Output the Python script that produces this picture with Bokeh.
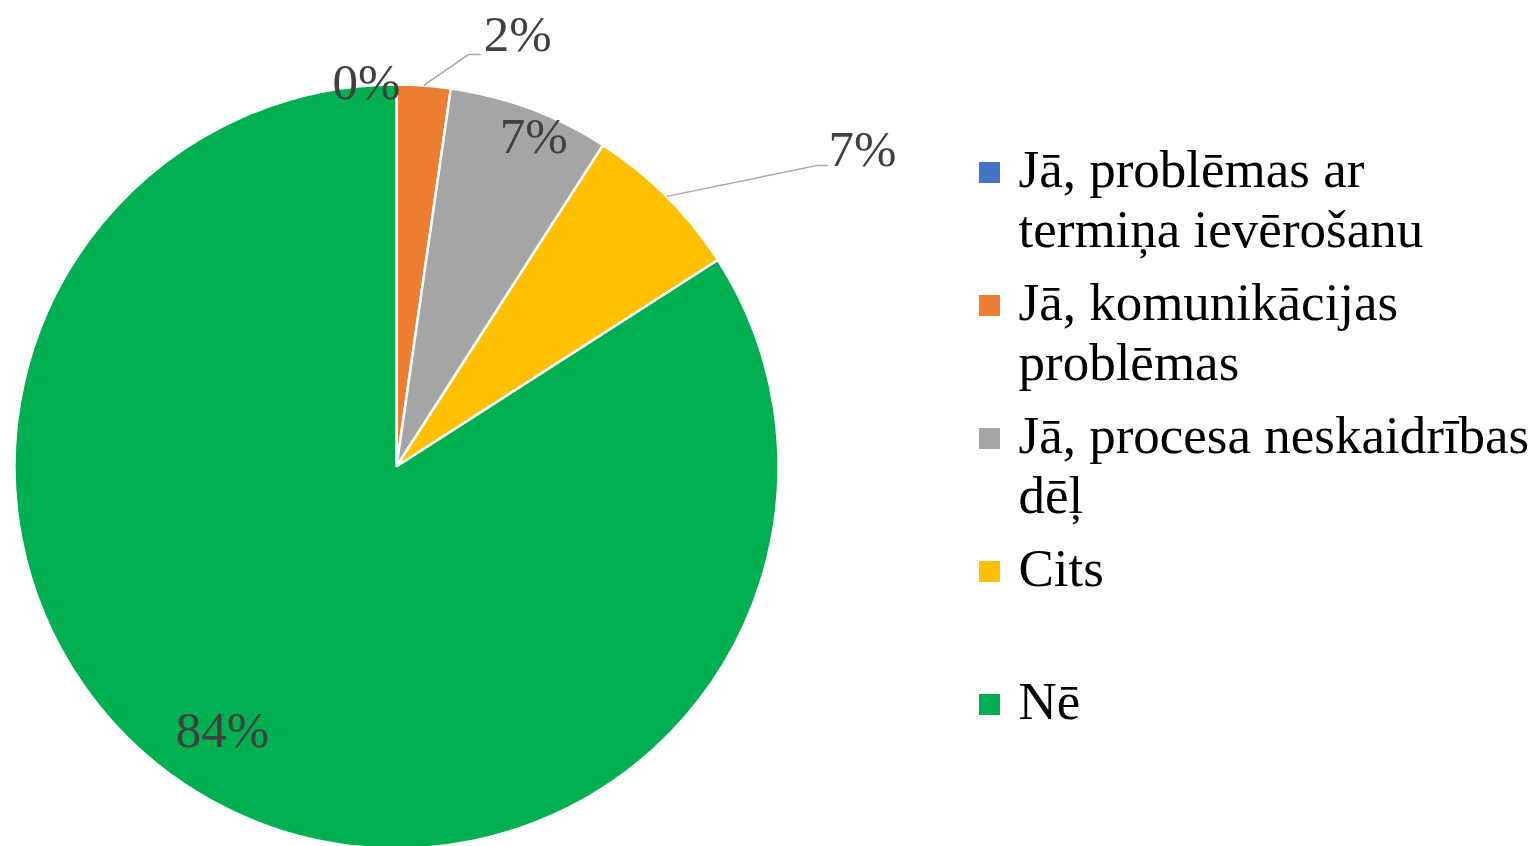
import math
from bokeh.plotting import figure
from bokeh.models import ColumnDataSource, Range1d
from bokeh.core.properties import value
from bokeh.embed import file_html
from bokeh.resources import INLINE

# ---- data ----
categories = [
    "Jā, problēmas ar\ntermiņa ievērošanu",
    "Jā, komunikācijas\nproblēmas",
    "Jā, procesa neskaidrības\ndēļ",
    "Cits",
    "Nē",
]
counts = [0, 1, 3, 3, 37]
percent_labels = ["0%", "2%", "7%", "7%", "84%"]
colors = ["#4472C4", "#ED7D31", "#A5A5A5", "#FFC000", "#00B050"]

# ---- layout ----
W, H = 1537, 846
CX, CY, R = 396, 380, 382
FONT = "Liberation Serif"
# per-slice label placement: (radial factor, dx, dy, leader elbow offset or None)
label_layout = [
    (1.00, -30, 3, None),
    (1.00, 94, 51, (-49, -20, -37)),
    (0.93, 13, -2, None),
    (1.00, 196, 47, (-45, -16, -35)),
    (0.83, -22, 15, None),
]

p = figure(width=W, height=H, x_range=Range1d(0, W), y_range=Range1d(0, H),
           output_backend="svg", toolbar_location=None, min_border=0,
           outline_line_color=None)
p.axis.visible = False
p.xgrid.visible = False
p.ygrid.visible = False

total = sum(counts)
cum = 0
ws = dict(start=[], end=[], color=[])
lab = dict(x=[], y=[], text=[])
lead_x, lead_y = [], []
for i, c in enumerate(counts):
    c0, c1 = cum, cum + c
    cum = c1
    a0 = math.pi / 2 - 2 * math.pi * c0 / total
    a1 = math.pi / 2 - 2 * math.pi * c1 / total
    if c > 0:
        ws["start"].append(a0)
        ws["end"].append(a1)
        ws["color"].append(colors[i])
    th = 2 * math.pi * (c0 + c1) / 2 / total  # clockwise from top
    k, dx, dy, lead = label_layout[i]
    ex = CX + R * k * math.sin(th)
    ey = CY + R * k * math.cos(th)
    lx, ly = ex + dx, ey + dy
    lab["x"].append(lx)
    lab["y"].append(ly)
    lab["text"].append(percent_labels[i])
    if lead:
        ox, oy, ox2 = lead
        lead_x.append([CX + R * math.sin(th), lx + ox, lx + ox2])
        lead_y.append([CY + R * math.cos(th), ly + oy, ly + oy])

src = ColumnDataSource(dict(x=[CX] * len(ws["start"]), y=[CY] * len(ws["start"]), **ws))
p.wedge(x="x", y="y", radius=R, start_angle="start", end_angle="end",
        direction="clock", fill_color="color", line_color="white", line_width=2.5,
        source=src)

p.multi_line(xs=lead_x, ys=lead_y, line_color="#A6A6A6", line_width=1.5)

p.text(x="x", y="y", text="text", source=ColumnDataSource(lab),
       text_font=value(FONT), text_font_size="51px", text_color="#404040",
       text_align="center", text_baseline="middle")

# ---- legend (manual) ----
LX, LTX, LY0, LSTEP, LINE = 989, 1018, 674, 133, 60
sq = dict(x=[], y=[], color=[])
lt = dict(x=[], y=[], text=[])
for i, name in enumerate(categories):
    yc = LY0 - LSTEP * i
    sq["x"].append(LX)
    sq["y"].append(yc)
    sq["color"].append(colors[i])
    for j, line in enumerate(name.split("\n")):
        lt["x"].append(LTX)
        lt["y"].append(yc + 4 - LINE * j)
        lt["text"].append(line)

p.scatter(x="x", y="y", marker="square", size=21, fill_color="color",
          line_color=None, source=ColumnDataSource(sq))
p.text(x="x", y="y", text="text", source=ColumnDataSource(lt),
       text_font=value(FONT), text_font_size="53px", text_color="#000000",
       text_align="left", text_baseline="alphabetic")

open("out.html", "w").write(file_html(p, INLINE))
